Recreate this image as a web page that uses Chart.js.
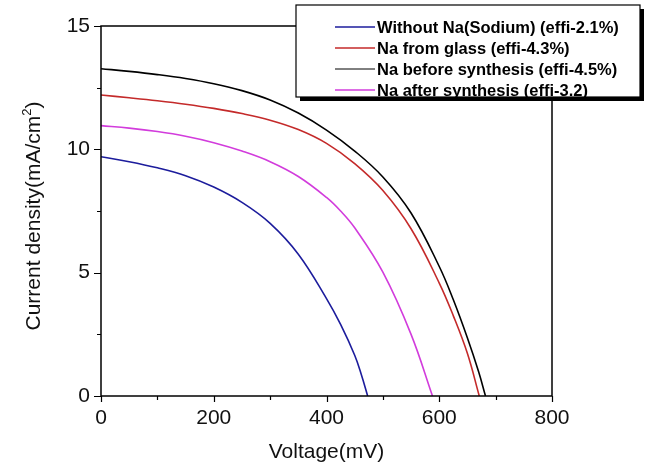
<!DOCTYPE html>
<html>
<head>
<meta charset="utf-8">
<script src="https://cdn.jsdelivr.net/npm/chart.js@4.4.0/dist/chart.umd.min.js"></script>
<style>
    html, body { margin: 0; padding: 0; background: #ffffff; }
    #wrap { width: 645px; height: 465px; position: relative; }
</style>
</head>
<body>
<div id="wrap"><canvas id="jvChart" width="645" height="465"></canvas></div>
<script>
// J-V curves data
const seriesLabels = [
    'Without Na(Sodium) (effi-2.1%)',
    'Na from glass (effi-4.3%)',
    'Na before synthesis (effi-4.5%)',
    'Na after synthesis (effi-3.2)'
];
const seriesColors = ['#1c1c9c', '#c42a2a', '#000000', '#d23cdc'];

// Without Na
const voltageWithout = [0, 50, 100, 150, 200, 250, 300, 350, 400, 425, 450, 462, 473];
const currentWithout = [9.70, 9.50, 9.25, 8.93, 8.47, 7.85, 7.00, 5.75, 3.95, 2.90, 1.65, 0.85, 0];

// Na from glass
const voltageGlass = [0, 50, 100, 150, 200, 250, 300, 350, 400, 450, 500, 550, 600, 625, 650, 671];
const currentGlass = [12.20, 12.09, 11.97, 11.83, 11.66, 11.45, 11.18, 10.80, 10.24, 9.42, 8.33, 6.78, 4.58, 3.25, 1.72, 0];

// Na before synthesis
const voltageBefore = [0, 50, 100, 150, 200, 250, 300, 350, 400, 450, 500, 550, 600, 625, 650, 670, 682];
const currentBefore = [13.27, 13.16, 13.03, 12.87, 12.66, 12.38, 12.00, 11.47, 10.78, 9.93, 8.88, 7.42, 5.25, 3.90, 2.35, 0.97, 0];

// Na after synthesis
const voltageAfter = [0, 50, 100, 150, 200, 250, 300, 350, 400, 425, 450, 500, 550, 588];
const currentAfter = [10.96, 10.86, 10.72, 10.53, 10.27, 9.93, 9.50, 8.90, 8.05, 7.50, 6.82, 5.02, 2.50, 0];

// Axis ticks
const xMajorTicks = [0, 200, 400, 600, 800];
const xMinorTicks = [100, 300, 500, 700];
const yMajorTicks = [0, 5, 10, 15];
const yMinorTicks = [2.5, 7.5, 12.5];

const fontFamily = '"Liberation Sans", Arial, sans-serif';

function toPoints(xs, ys) {
    return xs.map((x, i) => ({ x: x, y: ys[i] }));
}

const allVoltages = [voltageWithout, voltageGlass, voltageBefore, voltageAfter];
const allCurrents = [currentWithout, currentGlass, currentBefore, currentAfter];

const datasets = seriesLabels.map((label, i) => ({
    label: label,
    data: toPoints(allVoltages[i], allCurrents[i]),
    borderColor: seriesColors[i],
    backgroundColor: seriesColors[i],
    borderWidth: 1.6,
    showLine: true,
    pointRadius: 0,
    tension: 0.4,
    fill: false
}));

// Frame, ticks, axis titles and the boxed legend
const frameAndLegend = {
    id: 'frameAndLegend',
    afterDatasetsDraw(chart) {
        const ctx = chart.ctx;
        const area = chart.chartArea;
        const xs = chart.scales.x;
        const ys = chart.scales.y;

        ctx.save();
        ctx.strokeStyle = '#000';
        ctx.lineWidth = 1.5;
        ctx.strokeRect(area.left, area.top, area.right - area.left, area.bottom - area.top);

        // tick marks (outward)
        ctx.lineWidth = 1.2;
        ctx.beginPath();
        xMajorTicks.forEach(v => {
            const px = Math.round(xs.getPixelForValue(v)) + 0.5;
            ctx.moveTo(px, area.bottom); ctx.lineTo(px, area.bottom + 6);
        });
        xMinorTicks.forEach(v => {
            const px = Math.round(xs.getPixelForValue(v)) + 0.5;
            ctx.moveTo(px, area.bottom); ctx.lineTo(px, area.bottom + 4);
        });
        yMajorTicks.forEach(v => {
            const py = Math.round(ys.getPixelForValue(v)) + 0.5;
            ctx.moveTo(area.left, py); ctx.lineTo(area.left - 7, py);
        });
        yMinorTicks.forEach(v => {
            const py = Math.round(ys.getPixelForValue(v)) + 0.5;
            ctx.moveTo(area.left, py); ctx.lineTo(area.left - 4, py);
        });
        ctx.stroke();

        // axis titles
        ctx.fillStyle = '#111';
        ctx.font = '21px ' + fontFamily;
        ctx.textAlign = 'center';
        ctx.textBaseline = 'alphabetic';
        ctx.fillText('Voltage(mV)', (area.left + area.right) / 2, 458);

        const main = 'Current density(mA/cm';
        ctx.font = '21px ' + fontFamily;
        const wMain = ctx.measureText(main).width;
        const wParen = ctx.measureText(')').width;
        ctx.font = '13px ' + fontFamily;
        const wSup = ctx.measureText('2').width;
        const total = wMain + wSup + wParen;
        ctx.translate(40, (area.top + area.bottom) / 2 + 5);
        ctx.rotate(-Math.PI / 2);
        ctx.textAlign = 'left';
        ctx.font = '21px ' + fontFamily;
        ctx.fillText(main, -total / 2, 0);
        ctx.font = '13px ' + fontFamily;
        ctx.fillText('2', -total / 2 + wMain, -9);
        ctx.font = '21px ' + fontFamily;
        ctx.fillText(')', -total / 2 + wMain + wSup, 0);
        ctx.restore();

        // legend box with drop shadow
        const box = { left: 296, top: 5, right: 640, bottom: 97 };
        ctx.save();
        ctx.fillStyle = '#000';
        ctx.fillRect(box.left + 4, box.top + 4, box.right - box.left, box.bottom - box.top);
        ctx.fillStyle = '#fff';
        ctx.fillRect(box.left, box.top, box.right - box.left, box.bottom - box.top);
        ctx.strokeStyle = '#000';
        ctx.lineWidth = 1.2;
        ctx.strokeRect(box.left, box.top, box.right - box.left, box.bottom - box.top);

        ctx.font = 'bold 16.5px ' + fontFamily;
        ctx.textAlign = 'left';
        ctx.textBaseline = 'middle';
        chart.data.datasets.forEach((ds, i) => {
            const y = 27 + i * 21;
            ctx.strokeStyle = ds.borderColor;
            ctx.lineWidth = i === 2 ? 1 : 1.6;
            ctx.beginPath();
            ctx.moveTo(335, y);
            ctx.lineTo(375, y);
            ctx.stroke();
            ctx.fillStyle = '#000';
            ctx.fillText(ds.label, 377, y + 1);
        });
        ctx.restore();
    }
};

const jvChart = new Chart(document.getElementById('jvChart'), {
    type: 'scatter',
    data: { datasets: datasets },
    options: {
        responsive: false,
        animation: false,
        layout: { padding: { top: 26, right: 93, left: 0, bottom: 0 } },
        plugins: {
            legend: { display: false },
            tooltip: { enabled: false }
        },
        scales: {
            x: {
                type: 'linear',
                min: 0,
                max: 800,
                grid: { display: false, drawTicks: false },
                border: { display: false },
                ticks: {
                    stepSize: 200,
                    padding: 10,
                    color: '#111',
                    font: { family: fontFamily, size: 21 }
                },
                afterFit(scale) { scale.height = 69; }
            },
            y: {
                type: 'linear',
                min: 0,
                max: 15,
                grid: { display: false, drawTicks: false },
                border: { display: false },
                ticks: {
                    stepSize: 5,
                    padding: 11,
                    color: '#111',
                    font: { family: fontFamily, size: 21 }
                },
                afterFit(scale) { scale.width = 101; }
            }
        }
    },
    plugins: [frameAndLegend]
});
</script>
</body>
</html>
